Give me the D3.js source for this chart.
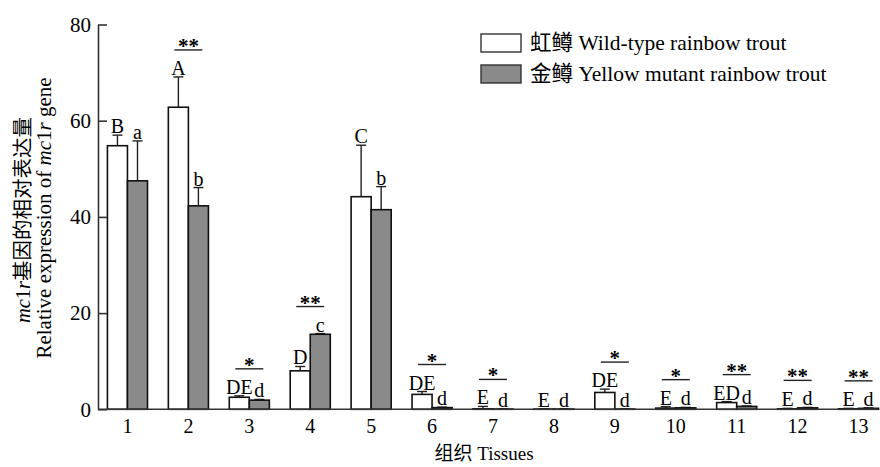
<!DOCTYPE html>
<html>
<head>
<meta charset="utf-8">
<script src="https://cdn.jsdelivr.net/npm/d3@7"></script>
<style>
  body { margin: 0; background: #fff; }
  svg text, svg tspan { font-family: "Liberation Serif", "Times New Roman", serif; fill: #000; }
  svg .cjk { font-family: "Noto Sans CJK SC", sans-serif; }
</style>
</head>
<body>
<script>
// data
const tissues = ["1","2","3","4","5","6","7","8","9","10","11","12","13"];
const wildMean = [54.8, 62.8, 2.5, 8.0, 44.2, 3.1, 0.1, 0.05, 3.5, 0.25, 1.4, 0.1, 0.1];
const wildErr  = [2.2, 6.3, 0.3, 0.9, 10.7, 0.6, 0.5, 0.05, 0.7, 0.3, 0.2, 0.1, 0.1];
const yellowMean = [47.5, 42.3, 1.9, 15.6, 41.5, 0.35, 0.05, 0.05, 0.05, 0.3, 0.6, 0.3, 0.2];
const yellowErr  = [8.3, 3.8, 0.15, 0.15, 4.8, 0.1, 0.05, 0.05, 0.05, 0.1, 0.1, 0.1, 0.1];
const wildLetters = ["B","A","DE","D","C","DE","E","E","DE","E","ED","E","E"];
const yellowLetters = ["a","b","d","c","b","d","d","d","d","d","d","d","d"];
const sigMarks = ["","**","*","**","","*","*","","*","*","**","**","**"];
const yTicks = [0, 20, 40, 60, 80];
const seriesCn = ["虹鳟", "金鳟"];
const seriesEn = ["Wild-type rainbow trout", "Yellow mutant rainbow trout"];

const w = 880, h = 467;
const plotLeft = 98, plotBottom = 409.3, plotTop = 24.5;

const svg = d3.select("body").append("svg")
  .attr("width", w).attr("height", h);

// scales
const x = d3.scaleBand().domain(tissues).range([97, 889]).paddingInner(0);
const xSub = d3.scaleBand().domain(["wild", "yellow"])
  .range([0, x.bandwidth()]).paddingInner(0).paddingOuter(0.52);
const y = d3.scaleLinear().domain([0, 80]).range([plotBottom, plotTop]);

const fills = { wild: "#ffffff", yellow: "#8a8a8a" };

// text made of pieces: [string, "cjk" | "it" | ""]
function pieces(txt, parts) {
  parts.forEach(p => {
    const s = txt.append("tspan").text(p[0]);
    if (p[1] === "cjk") s.attr("class", "cjk");
    if (p[1] === "it") s.attr("font-style", "italic");
  });
  return txt;
}

const rows = tissues.map((t, i) => ({
  t, i,
  bars: [
    { key: "wild", v: wildMean[i], e: wildErr[i], lab: wildLetters[i] },
    { key: "yellow", v: yellowMean[i], e: yellowErr[i], lab: yellowLetters[i] }
  ]
}));

const groups = svg.selectAll("g.tissue")
  .data(rows).enter()
  .append("g").attr("class", "tissue")
  .attr("transform", d => "translate(" + x(d.t) + ",0)");

// error bars (upward only)
groups.selectAll("g.err").data(d => d.bars).enter()
  .append("g").attr("class", "err")
  .each(function(b) {
    const cx = xSub(b.key) + xSub.bandwidth() / 2;
    const g = d3.select(this);
    g.append("line").attr("x1", cx).attr("x2", cx)
      .attr("y1", y(b.v)).attr("y2", y(b.v + b.e))
      .attr("stroke", "#222").attr("stroke-width", 1.4);
    g.append("line").attr("x1", cx - 5).attr("x2", cx + 5)
      .attr("y1", y(b.v + b.e)).attr("y2", y(b.v + b.e))
      .attr("stroke", "#222").attr("stroke-width", 1.4);
  });

// bars
groups.selectAll("rect").data(d => d.bars).enter()
  .append("rect")
  .attr("x", b => xSub(b.key))
  .attr("y", b => y(b.v))
  .attr("width", xSub.bandwidth())
  .attr("height", b => y(0) - y(b.v))
  .attr("fill", b => fills[b.key])
  .attr("stroke", "#111")
  .attr("stroke-width", 1.6);

// letters over bars
groups.selectAll("text.lab").data(d => d.bars).enter()
  .append("text").attr("class", "lab")
  .attr("x", b => xSub(b.key) + xSub.bandwidth() / 2)
  .attr("y", b => y(b.v + b.e) - 2)
  .attr("text-anchor", "middle")
  .attr("font-size", 20)
  .text(b => b.lab);

// significance lines
groups.filter(d => sigMarks[d.i] !== "").each(function(d) {
  const topVal = d3.max(d.bars, b => b.v + b.e);
  const ly = y(topVal) - 27;
  const cx = x.bandwidth() / 2;
  const g = d3.select(this);
  g.append("line").attr("x1", cx - 14).attr("x2", cx + 14)
    .attr("y1", ly).attr("y2", ly)
    .attr("stroke", "#222").attr("stroke-width", 1.4);
  g.append("text").attr("x", cx).attr("y", ly + 3)
    .attr("text-anchor", "middle").attr("font-size", 21).attr("font-weight", "bold")
    .text(sigMarks[d.i]);
});

// axes
const bottomAxis = d3.axisBottom(x).tickSize(0).tickPadding(10);
const leftAxis = d3.axisLeft(y).tickValues(yTicks)
  .tickSizeInner(-9).tickSizeOuter(0).tickPadding(7);

const gx = svg.append("g")
  .attr("transform", "translate(0," + plotBottom + ")")
  .call(bottomAxis);
gx.select(".domain").attr("d", "M" + plotLeft + ",0H878");

const gy = svg.append("g")
  .attr("transform", "translate(" + plotLeft + ",0)")
  .call(leftAxis);

svg.selectAll(".domain, .tick line").attr("stroke", "#333").attr("stroke-width", 1.6);
gy.selectAll(".tick text").attr("font-size", 21);
gx.selectAll(".tick text").attr("font-size", 20);

// axis titles
pieces(svg.append("text").attr("x", 484).attr("y", 460)
  .attr("text-anchor", "middle").attr("font-size", 19),
  [["组织", "cjk"], [" Tissues", ""]]);

pieces(svg.append("text")
  .attr("transform", "translate(30,220) rotate(-90)")
  .attr("text-anchor", "middle").attr("font-size", 20.5),
  [["mc", "it"], ["1", ""], ["r", "it"], ["基因的相对表达量", "cjk"]]);

pieces(svg.append("text")
  .attr("transform", "translate(51,218) rotate(-90)")
  .attr("text-anchor", "middle").attr("font-size", 21),
  [["Relative expression of ", ""], ["mc", "it"], ["1", ""], ["r", "it"], [" gene", ""]]);

// legend
const legend = svg.selectAll("g.legend")
  .data(["wild", "yellow"]).enter()
  .append("g").attr("class", "legend")
  .attr("transform", (d, i) => "translate(481," + (34 + i * 31) + ")");
legend.append("rect").attr("width", 40).attr("height", 18)
  .attr("fill", d => fills[d]).attr("stroke", "#333").attr("stroke-width", 1.4);
legend.each(function(d, i) {
  pieces(d3.select(this).append("text").attr("x", 49).attr("y", 16).attr("font-size", 21.5),
    [[seriesCn[i], "cjk"], [" " + seriesEn[i], ""]]);
});
</script>
</body>
</html>
